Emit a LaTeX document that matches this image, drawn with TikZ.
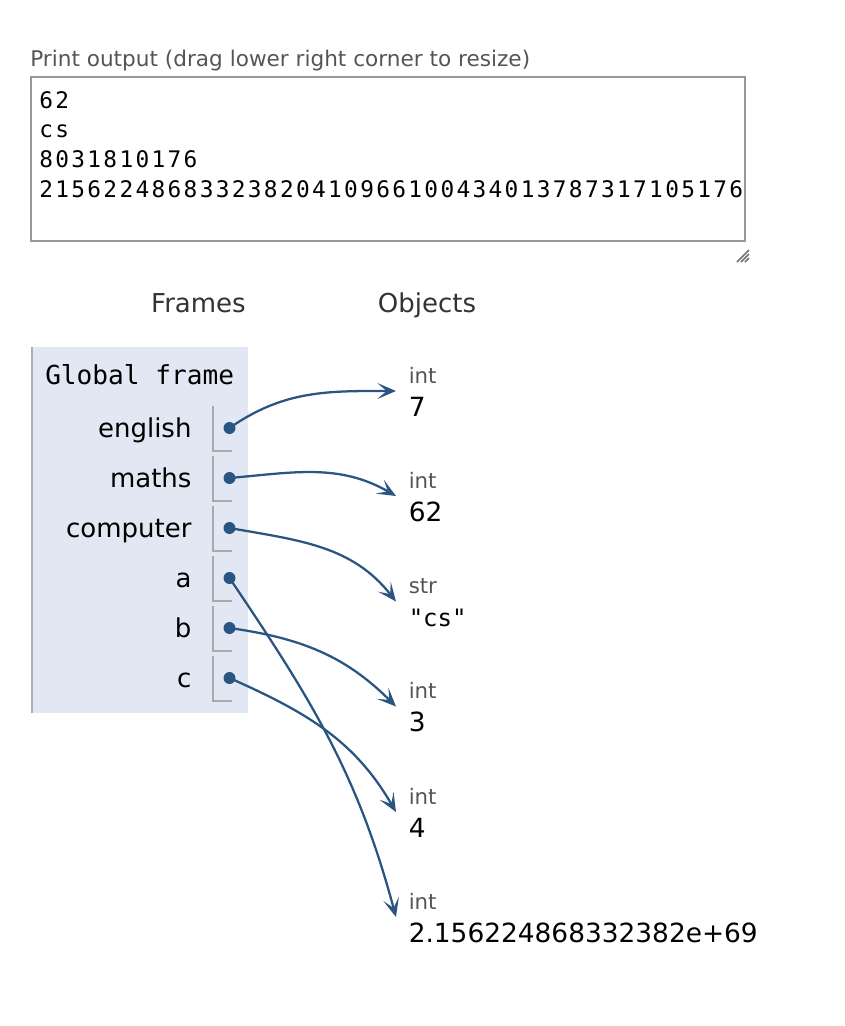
\documentclass[tikz,border=0pt]{standalone}
\usepackage{fontspec}
\setmainfont{DejaVu Sans}
\setmonofont{DejaVu Sans Mono}
\newfontfamily\printfont[LetterSpace=10.2]{DejaVu Sans Mono}
\usepackage{tikz}
\usetikzlibrary{positioning,arrows.meta}
\definecolor{linkblue}{HTML}{2A5582}
\definecolor{framebg}{HTML}{E2E8F3}
\definecolor{frameedge}{HTML}{A6B0B8}
\definecolor{cellgrey}{HTML}{AAAAAA}
\definecolor{labelgrey}{HTML}{555555}
\definecolor{boxgrey}{HTML}{999999}
\newcommand{\framevar}[3]{\node[ptdot] (#1) at (229.5,#2) {};\node[varname] (#1name) at ([xshift=-28.3pt,yshift=-7pt]#1.center) {#3};\draw[ptcell] ([xshift=-12.5pt,yshift=16.5pt]#1.center) |- ([xshift=1.8pt,yshift=-17.2pt]#1.center);}
\newcommand{\heapobj}[4]{\node[typelab] (#1) at (408.5,#2) {#3};\node[vallab, below=25pt of #1.base west, anchor=base west] (#1val) {#4};\coordinate (#1in) at ([xshift=-9.4pt,yshift=-6pt]#1.base west);}
\tikzset{ptlink/.style={-{Stealth[length=14pt, width=12pt, inset=7pt]}, line width=1.7pt, draw=linkblue},
  ptdot/.style={circle, fill=linkblue, inner sep=0pt, minimum size=9pt},
  ptcell/.style={draw=cellgrey, line width=1.4pt},
  varname/.style={anchor=base east, inner sep=0pt, font=\fontsize{19.5pt}{23pt}\selectfont},
  typelab/.style={anchor=base west, inner sep=0pt, text=labelgrey, font=\fontsize{16pt}{19pt}\selectfont},
  vallab/.style={inner sep=0pt, font=\fontsize{19.8pt}{23pt}\selectfont},
  header/.style={anchor=base, inner sep=0pt, text=black!80, font=\fontsize{19.5pt}{23pt}\selectfont},
  outtext/.style={anchor=base west, inner sep=0pt, font=\printfont\fontsize{17.1pt}{22pt}\selectfont}}

\begin{document}
\begin{tikzpicture}[x=0.75pt, y=-0.75pt]
\useasboundingbox (0,0) rectangle (844,1026);
% print output
\node[anchor=base west, inner sep=0pt, text=labelgrey, font=\fontsize{16.2pt}{19pt}\selectfont] (outlabel) at (30,66.5) {Print output (drag lower right corner to resize)};
\draw[boxgrey, line width=1.3pt] (31,77) rectangle (745,241);
\node[outtext] (out1) at (39,108) {62};
\node[outtext, below=22.3pt of out1.base west, anchor=base west] (out2) {cs};
\node[outtext, below=22.3pt of out2.base west, anchor=base west] (out3) {8031810176};
\node[outtext, below=22.3pt of out3.base west, anchor=base west] (out4) {21562248683323820410966100434013787317105176};
\draw[black!55, line width=1.1pt] (737,262) -- (749,250) (741,262) -- (749,254) (745,262) -- (749,258);
% frames and objects
\node[header] (frames) at (198.5,312) {Frames};
\node[header] (objects) at (427,312) {Objects};
\fill[framebg] (31,347) rectangle (247.5,713);
\draw[frameedge, line width=2pt] (32,347) -- (32,713);
\node[anchor=base west, inner sep=0pt, font=\ttfamily\fontsize{19.6pt}{23pt}\selectfont] (gframe) at (45,384) {Global frame};
\framevar{english}{428}{english}
\framevar{maths}{478}{maths}
\framevar{computer}{528}{computer}
\framevar{a}{578}{a}
\framevar{b}{628}{b}
\framevar{c}{678}{c}
\heapobj{oseven}{383}{int}{7}
\heapobj{osixtytwo}{488}{int}{62}
\heapobj{ocs}{593.5}{str}{{\ttfamily\fontsize{18pt}{22pt}\selectfont"cs"}}
\heapobj{othree}{698.5}{int}{3}
\heapobj{ofour}{804}{int}{4}
\heapobj{obig}{909}{int}{2.156224868332382e+69}
\draw[ptlink] (english.center) to[out=35, in=180] (osevenin);
\draw[ptlink] (maths.center) to[out=5, in=150] (osixtytwoin);
\draw[ptlink] (computer.center) to[out=-10, in=128] (ocsin);
\draw[ptlink] (a.center) to[out=-56, in=105] (obigin);
\draw[ptlink] (b.center) to[out=-8, in=135] (othreein);
\draw[ptlink] (c.center) to[out=-24, in=120] (ofourin);
\end{tikzpicture}
\end{document}
